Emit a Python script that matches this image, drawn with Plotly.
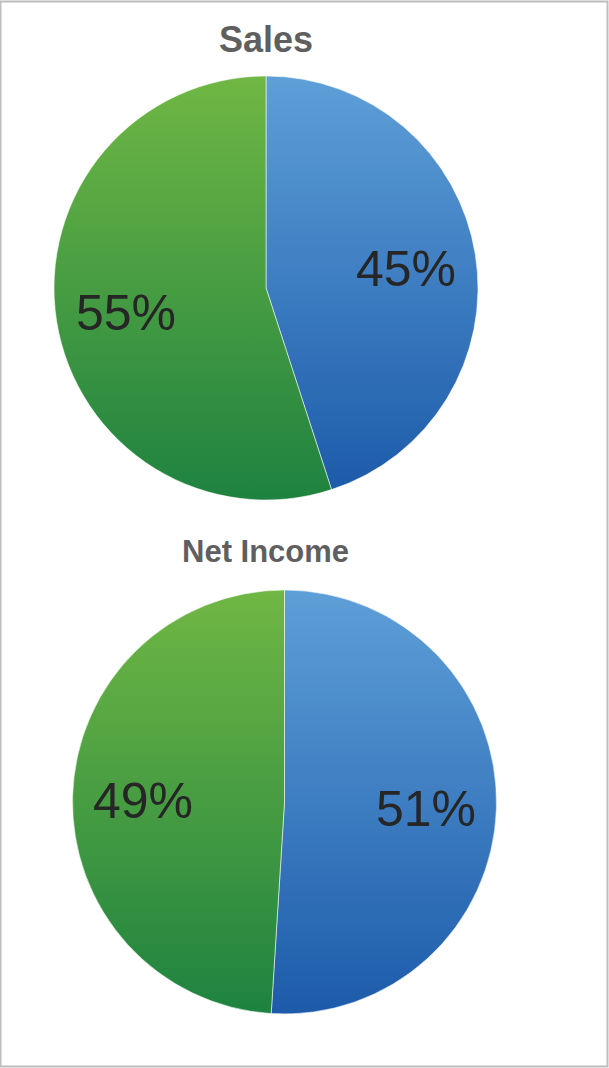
import math
import plotly.graph_objects as go

segments = ["Segment A", "Segment B"]
sales_share = [45, 55]
net_income_share = [51, 49]
chart_titles = ["Sales", "Net Income"]
slice_colors = ["#3B7CC3", "#3A9A45"]
gradient_top = ["#5E9FD8", "#70B744"]
gradient_bottom = ["#1D5BAA", "#1E8240"]

W, H = 609, 1068
R = 212
pie_centers = [(266, 288), (284.5, 802)]
title_pos = [(266, 40), (265, 551)]
title_sizes = [36, 31]
LABEL_R = 0.67

fig = go.Figure()

label_font = dict(family="Liberation Sans, Arial, sans-serif", size=50, color="#262626")
title_font = dict(family="Liberation Sans, Arial, sans-serif", color="#5F5F5F")

for k, values in enumerate([sales_share, net_income_share]):
    cx, cy = pie_centers[k]
    fig.add_trace(go.Pie(
        labels=segments, values=values, sort=False, direction="clockwise", rotation=0,
        marker=dict(colors=slice_colors, line=dict(color="rgba(255,255,255,0.55)", width=1)),
        textinfo="none", domain=dict(x=[(cx - R) / W, (cx + R) / W], y=[1 - (cy + R) / H, 1 - (cy - R) / H]),
        showlegend=False, hoverinfo="skip",
    ))
    total = float(sum(values))
    cum = 0.0
    for v in values:
        mid = (cum + v / 2.0) / total
        cum += v
        th = 2 * math.pi * mid
        px = cx + LABEL_R * R * math.sin(th)
        py = cy - LABEL_R * R * math.cos(th)
        fig.add_annotation(text="%d%%" % round(100 * v / total), x=px / W, y=1 - py / H,
                           xref="paper", yref="paper", showarrow=False, font=label_font,
                           xanchor="center", yanchor="middle", yshift=-3)
    tx, ty = title_pos[k]
    fig.add_annotation(text="<b>%s</b>" % chart_titles[k], x=tx / W, y=1 - ty / H, xref="paper", yref="paper",
                       showarrow=False, font=dict(title_font, size=title_sizes[k]),
                       xanchor="center", yanchor="middle")

fig.add_shape(type="rect", xref="paper", yref="paper", x0=0.5 / W, x1=1 - 1.5 / W, y0=1.5 / H, y1=1 - 1.5 / H,
              line=dict(color="#BDBDBD", width=2), fillcolor="rgba(0,0,0,0)")

fig.update_layout(width=W, height=H, margin=dict(l=0, r=0, t=0, b=0),
                  paper_bgcolor="white", plot_bgcolor="white")


def hex_rgb(h):
    h = h.lstrip("#")
    return "rgb(%d, %d, %d)" % (int(h[0:2], 16), int(h[2:4], 16), int(h[4:6], 16))


grad_js = ",".join('["%s","%s","%s"]' % (hex_rgb(c), t, b)
                   for c, t, b in zip(slice_colors, gradient_top, gradient_bottom))

post = """
var gd = document.getElementById('{plot_id}');
var GR = [%s];
function applyGrad() {
  var svg = gd.querySelector('svg.main-svg');
  if (!svg) return;
  var defs = svg.querySelector('defs');
  var NS = 'http://www.w3.org/2000/svg';
  GR.forEach(function (g, i) {
    if (!document.getElementById('pieGrad' + i)) {
      var lg = document.createElementNS(NS, 'linearGradient');
      lg.setAttribute('id', 'pieGrad' + i);
      lg.setAttribute('x1', '0'); lg.setAttribute('y1', '0');
      lg.setAttribute('x2', '0'); lg.setAttribute('y2', '1');
      [[0, g[1]], [1, g[2]]].forEach(function (s) {
        var st = document.createElementNS(NS, 'stop');
        st.setAttribute('offset', s[0]);
        st.setAttribute('stop-color', s[1]);
        lg.appendChild(st);
      });
      defs.appendChild(lg);
    }
  });
  gd.querySelectorAll('g.slice path.surface').forEach(function (p) {
    var f = p.getAttribute('data-basefill') || p.style.fill;
    p.setAttribute('data-basefill', f);
    GR.forEach(function (g, i) {
      if (f.replace(/\\s/g, '') === g[0].replace(/\\s/g, '')) { p.style.fill = 'url(#pieGrad' + i + ')'; }
    });
  });
}
applyGrad();
gd.on('plotly_afterplot', applyGrad);
""" % grad_js

fig.write_html("out.html", post_script=post)
